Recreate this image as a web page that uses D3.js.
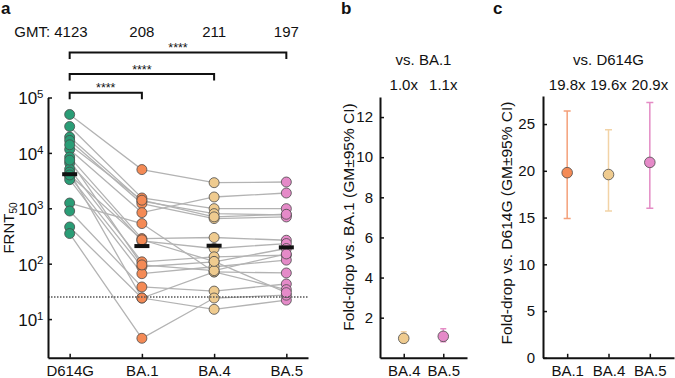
<!DOCTYPE html>
<html><head><meta charset="utf-8">
<script src="https://cdn.jsdelivr.net/npm/d3@7"></script>
<style>
body{margin:0;background:#fff;}
svg{display:block;font-family:"Liberation Sans",Arial,Helvetica,sans-serif;}
</style></head>
<body>
<svg id="c" width="675" height="378"></svg>
<script>
// ---------- data ----------
const categories = ["D614G", "BA.1", "BA.4", "BA.5"];
const gmt = [4123, 208, 211, 197];
// paired FRNT50 values per subject (same index = same subject)
const d614g = [49400, 30000, 19300, 16800, 11560, 8400, 6550, 5100, 3770, 3290, 4500, 1245, 893, 460, 350, 14000, 7400, 4000];
const ba1   = [5000, 1535, 1340, 1216, 836, 284, 258, 108, 88, 66, 24, 530, 38, 24, 4.5, 1400, 95, 270];
const ba4   = [2900, 986, 801, 652, 1600, 297, 188, 133, 108, 88, 15, 71, 32, 71, 24, 700, 75, 110];
const ba5   = [2980, 986, 760, 698, 1888, 265, 231, 142, 188, 116, 22, 68, 43, 34, 27, 780, 150, 30];
const lod = 25;
const yTicksA = [10, 100, 1000, 10000, 100000];
const sigStars = ["****", "****", "****"]; // vs BA.1, BA.4, BA.5

const catB = ["BA.4", "BA.5"];
const foldB = [0.97, 1.07];
const loB = [0.75, 0.8];
const hiB = [1.3, 1.45];
const foldLabelsB = ["1.0x", "1.1x"];
const yTicksB = [2, 4, 6, 8, 10, 12];

const catC = ["BA.1", "BA.4", "BA.5"];
const foldC = [19.8, 19.6, 20.9];
const loC = [14.9, 15.7, 16.0];
const hiC = [26.4, 24.4, 27.3];
const foldLabelsC = ["19.8x", "19.6x", "20.9x"];
const yTicksC = [0, 5, 10, 15, 20, 25];

const fillCol = {"D614G": "#2a9d76", "BA.1": "#f48a55", "BA.4": "#efcb8f", "BA.5": "#e58ac8"};
const errCol = {"BA.1": "#f4a07a", "BA.4": "#f2d3a6", "BA.5": "#e48cc5"};

// ---------- drawing ----------
const svg = d3.select("#c");
const FS = 15;
const series = [d614g, ba1, ba4, ba5];

function styleAxis(g) {
  g.select(".domain").attr("stroke", "#111").attr("stroke-width", 2);
  g.selectAll(".tick line").attr("stroke", "#111").attr("stroke-width", 1.5);
  g.selectAll(".tick text").attr("fill", "#111").style("font-size", FS + "px")
    .style("font-family", '"Liberation Sans",Arial,sans-serif');
}

// panel labels
[["a", 1], ["b", 341], ["c", 493]].forEach(([t, x]) => {
  svg.append("text").attr("x", x).attr("y", 14).text(t)
    .style("font-weight", "bold").style("font-size", "17px").attr("fill", "#111");
});

// ===== Panel a =====
const xA = d3.scalePoint().domain(categories).range([48, 308]).padding(0.3);
const yA = d3.scaleLog().domain([2, 100000]).range([357.8, 97.5]);

// paired lines
const lineGen = d3.line().x(d => xA(d[0])).y(d => yA(d[1]));
d614g.forEach((v, i) => {
  const pts = categories.map((c, k) => [c, series[k][i]]);
  svg.append("path").attr("d", lineGen(pts)).attr("fill", "none")
    .attr("stroke", "#b3b3b3").attr("stroke-width", 1.3);
});

// points
categories.forEach((c, k) => {
  svg.append("g").selectAll("circle").data(series[k]).join("circle")
    .attr("cx", xA(c)).attr("cy", d => yA(d)).attr("r", 5)
    .attr("fill", fillCol[c]).attr("stroke", "#4a4a4a").attr("stroke-width", 0.8);
});

// LOD dotted line
svg.append("line").attr("x1", 48).attr("x2", 308).attr("y1", yA(lod)).attr("y2", yA(lod))
  .attr("stroke", "#555").attr("stroke-width", 1.6).attr("stroke-dasharray", "1.5,1.5");

// GMT bars
categories.forEach((c, k) => {
  svg.append("rect").attr("x", xA(c) - 7.5).attr("y", yA(gmt[k]) - 2)
    .attr("width", 15).attr("height", 4).attr("fill", "#111");
});

// axes
const gyA = svg.append("g").attr("transform", "translate(48,0)")
  .call(d3.axisLeft(yA).tickValues(yTicksA).tickSizeInner(-4).tickSizeOuter(0).tickFormat(""));
styleAxis(gyA);
gyA.selectAll(".tick").each(function(d) {
  const t = d3.select(this).append("text").attr("x", -4.5).attr("dy", "0.38em")
    .attr("text-anchor", "end").attr("fill", "#111").style("font-size", "17px");
  t.append("tspan").text("10");
  t.append("tspan").text(Math.round(Math.log10(d))).attr("dy", "-0.55em").style("font-size", "11.5px");
});
const gxA = svg.append("g").attr("transform", "translate(0,357.8)")
  .call(d3.axisBottom(xA).tickSizeInner(-4).tickSizeOuter(0).tickPadding(8));
styleAxis(gxA);

// y label FRNT50
const yl = svg.append("text").attr("transform", "translate(14,228) rotate(-90)")
  .attr("text-anchor", "middle").attr("fill", "#111").style("font-size", FS + "px");
yl.append("tspan").text("FRNT");
yl.append("tspan").text("50").attr("dy", "0.3em").style("font-size", "10px");

// GMT labels
categories.forEach((c, k) => {
  const t = svg.append("text").attr("y", 37.3).attr("fill", "#111").style("font-size", FS + "px");
  if (k === 0) {
    t.attr("x", xA(c) + 18).attr("text-anchor", "end").text("GMT: " + gmt[k]);
  } else {
    t.attr("x", xA(c)).attr("text-anchor", "middle").text(gmt[k]);
  }
});

// significance brackets
const brY = [92.7, 74, 52.5];
[1, 2, 3].forEach((k, j) => {
  const x1 = xA(categories[0]), x2 = xA(categories[k]), y = brY[j];
  svg.append("path").attr("d", `M${x1},${y + 6.5}V${y}H${x2}V${y + 6.5}`)
    .attr("fill", "none").attr("stroke", "#111").attr("stroke-width", 2);
  svg.append("text").attr("x", (x1 + x2) / 2).attr("y", y - 0.5).attr("text-anchor", "middle")
    .style("font-size", "12.5px").attr("fill", "#111").text(sigStars[j]);
});

// ===== Panel b =====
const xB = d3.scalePoint().domain(catB).range([380, 467]).padding(0.6);
const yB = d3.scaleLinear().domain([0, 13]).range([357.8, 97]);

catB.forEach((c, k) => {
  const x = xB(c);
  svg.append("path").attr("d", `M${x},${yB(loB[k])}V${yB(hiB[k])}M${x - 3},${yB(loB[k])}h6M${x - 3},${yB(hiB[k])}h6`)
    .attr("stroke", errCol[c]).attr("stroke-width", 1.5).attr("fill", "none");
  svg.append("circle").attr("cx", x).attr("cy", yB(foldB[k])).attr("r", 5.3)
    .attr("fill", fillCol[c]).attr("stroke", "#4a4a4a").attr("stroke-width", 0.8);
  svg.append("text").attr("x", x).attr("y", 90).attr("text-anchor", "middle")
    .style("font-size", FS + "px").attr("fill", "#111").text(foldLabelsB[k]);
});
svg.append("text").attr("x", (xB(catB[0]) + xB(catB[1])) / 2).attr("y", 65).attr("text-anchor", "middle")
  .style("font-size", FS + "px").attr("fill", "#111").text("vs. BA.1");

const gyB = svg.append("g").attr("transform", "translate(380,0)")
  .call(d3.axisLeft(yB).tickValues(yTicksB).tickSizeInner(-4).tickSizeOuter(0).tickPadding(7));
styleAxis(gyB);
const gxB = svg.append("g").attr("transform", "translate(0,357.8)")
  .call(d3.axisBottom(xB).tickSizeInner(-4).tickSizeOuter(0).tickPadding(8));
styleAxis(gxB);
svg.append("text").attr("transform", "translate(354,217) rotate(-90)").attr("text-anchor", "middle")
  .style("font-size", "15.5px").attr("fill", "#111").text("Fold-drop vs. BA.1 (GM±95% CI)");

// ===== Panel c =====
const xC = d3.scalePoint().domain(catC).range([543, 674]).padding(0.585);
const yC = d3.scaleLinear().domain([0, 28]).range([357.8, 96]);

catC.forEach((c, k) => {
  const x = xC(c);
  svg.append("path").attr("d", `M${x},${yC(loC[k])}V${yC(hiC[k])}M${x - 3.5},${yC(loC[k])}h7M${x - 3.5},${yC(hiC[k])}h7`)
    .attr("stroke", errCol[c]).attr("stroke-width", 1.5).attr("fill", "none");
  svg.append("circle").attr("cx", x).attr("cy", yC(foldC[k])).attr("r", 5.3)
    .attr("fill", fillCol[c]).attr("stroke", "#4a4a4a").attr("stroke-width", 0.8);
  svg.append("text").attr("x", x).attr("y", 90).attr("text-anchor", "middle")
    .style("font-size", FS + "px").attr("fill", "#111").text(foldLabelsC[k]);
});
svg.append("text").attr("x", xC(catC[1])).attr("y", 65).attr("text-anchor", "middle")
  .style("font-size", FS + "px").attr("fill", "#111").text("vs. D614G");

const gyC = svg.append("g").attr("transform", "translate(543,0)")
  .call(d3.axisLeft(yC).tickValues(yTicksC).tickSizeInner(-4).tickSizeOuter(0).tickPadding(8));
styleAxis(gyC);
const gxC = svg.append("g").attr("transform", "translate(0,357.8)")
  .call(d3.axisBottom(xC).tickSizeInner(-4).tickSizeOuter(0).tickPadding(8));
styleAxis(gxC);
svg.append("text").attr("transform", "translate(512,223) rotate(-90)").attr("text-anchor", "middle")
  .style("font-size", "15.5px").attr("fill", "#111").text("Fold-drop vs. D614G (GM±95% CI)");
</script>
</body></html>
